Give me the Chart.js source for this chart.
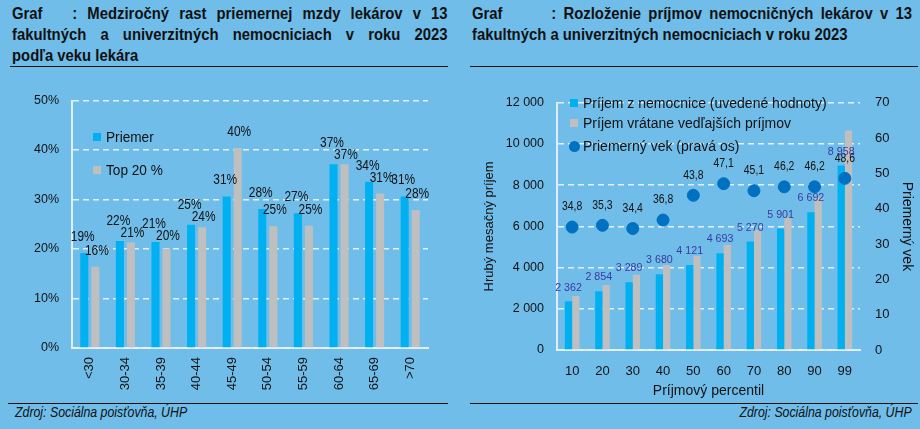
<!DOCTYPE html>
<html>
<head>
<meta charset="utf-8">
<script src="https://cdn.jsdelivr.net/npm/chart.js@4.4.1/dist/chart.umd.min.js"></script>
<style>
  body { margin: 0; background: #70bdea; }
  #page { position: relative; width: 920px; height: 429px; background: #70bdea; overflow: hidden;
    font-family: "Liberation Sans", Arial, sans-serif; color: #111; }
  .title { position: absolute; top: 3px; font-weight: bold; font-size: 16.5px; line-height: 21px;
    transform: scaleX(0.9); transform-origin: 0 0; }
  .title div { text-align: justify; text-align-last: justify; white-space: nowrap; }
  .title div.last { text-align-last: left; }
  .title .g { display: inline-block; }
  .rule { position: absolute; height: 0; border-top: 1.5px solid #111; }
  .src { position: absolute; top: 404px; font-style: italic; font-size: 14px; transform: scaleX(0.88); }
  .chart { position: absolute; top: 80px; }
  .leg { position: absolute; white-space: nowrap; }
  .leg i { display: inline-block; width: 8px; height: 8px; margin-right: 5px; vertical-align: 1px; }
  .leg i.dot { width: 11px; height: 11px; border-radius: 50%; vertical-align: -1px; margin-right: 3px; margin-left: -1px; }
  .leg span { display: inline-block; }
</style>
</head>
<body>
<div id="page">
  <div class="title" style="left:12px;width:484px">
    <div><span class="g" style="width:67px">Graf</span>: Medziročný rast priemernej mzdy lekárov v&nbsp;13</div>
    <div>fakultných a&nbsp;univerzitných nemocniciach v roku 2023</div>
    <div class="last">podľa veku lekára</div>
  </div>
  <div class="title" style="left:472px;width:489px">
    <div><span class="g" style="width:88px">Graf</span>: Rozloženie príjmov nemocničných lekárov v&nbsp;13</div>
    <div class="last">fakultných a univerzitných nemocniciach v roku 2023</div>
  </div>
  <div class="rule" style="left:10px;width:438px;top:66px"></div>
  <div class="rule" style="left:470px;width:448px;top:66px"></div>

  <div class="chart" style="left:0;width:450px;height:320px"><canvas id="ageChart"></canvas></div>
  <div class="chart" style="left:460px;width:460px;height:320px"><canvas id="pctChart"></canvas></div>

  <div class="leg" style="left:93px;top:128px;font-size:15.5px"><i style="background:#00b0f0"></i><span style="transform:scaleX(0.88);transform-origin:0 0">Priemer</span></div>
  <div class="leg" style="left:93px;top:161px;font-size:15.5px"><i style="background:#bfbfbf"></i><span style="transform:scaleX(0.88);transform-origin:0 0">Top 20 %</span></div>

  <div class="leg" style="left:570px;top:95px;font-size:14px"><i style="background:#00b0f0"></i>Príjem z nemocnice (uvedené hodnoty)</div>
  <div class="leg" style="left:570px;top:115px;font-size:14px"><i style="background:#bfbfbf"></i>Príjem vrátane vedľajších príjmov</div>
  <div class="leg" style="left:570px;top:138px;font-size:14px"><i class="dot" style="background:#0070c0"></i>Priemerný vek (pravá os)</div>

  <div class="rule" style="left:8px;width:440px;top:403px"></div>
  <div class="rule" style="left:470px;width:448px;top:403px"></div>
  <div class="src" style="left:15px;transform-origin:0 0">Zdroj: Sociálna poisťovňa, ÚHP</div>
  <div class="src" style="right:8px;transform-origin:100% 0">Zdroj: Sociálna poisťovňa, ÚHP</div>
</div>

<script>
// left chart - wage growth by age group (%)
const ageGroups = ["<30", "30-34", "35-39", "40-44", "45-49", "50-54", "55-59", "60-64", "65-69", ">70"];
const growthAvg = [19.2, 21.6, 21.4, 24.9, 30.6, 28.1, 27.2, 37.1, 33.6, 30.6];
const growthTop20 = [16.4, 21.3, 20.1, 24.4, 40.4, 24.6, 24.7, 37.1, 31.2, 27.9];

// right chart - income by percentile
const percentiles = ["10", "20", "30", "40", "50", "60", "70", "80", "90", "99"];
const incomeHospital = [2362, 2854, 3289, 3680, 4121, 4693, 5270, 5901, 6692, 8958];
const incomeTotal = [2625, 3150, 3650, 4125, 4580, 5110, 5830, 6440, 7400, 10650];
const avgAge = [34.8, 35.3, 34.4, 36.8, 43.8, 47.1, 45.1, 46.2, 46.2, 48.6];

const FONT = '"Liberation Sans", Arial, sans-serif';
const gridColor = "rgba(255,255,255,0.8)";
const axisColor = "rgba(235,242,250,0.9)";

Chart.defaults.font.family = FONT;
Chart.defaults.color = "#111";
Chart.defaults.animation = false;

const spaced = (v) => String(v).replace(/\B(?=(\d{3})+(?!\d))/g, " ");

// draws value labels above marks (narrowed, like Arial Narrow)
const valueLabels = {
  id: "valueLabels",
  afterDatasetsDraw(chart, args, opts) {
    const ctx = chart.ctx;
    const pos = chart.data.datasets.map((ds, i) =>
      chart.getDatasetMeta(i).data.map((el) => ({ x: el.x, y: el.y - (ds.labelOffset || 0) }))
    );
    // keep the two bar labels of one category apart
    if (opts.separate) {
      pos[0].forEach((a, j) => {
        const b = pos[1][j];
        if (Math.abs(a.y - b.y) < 12) {
          const m = (a.y + b.y) / 2;
          a.y = m - 5;
          b.y = m + 7;
        }
        a.x -= 1.5;
        b.x += 1.5;
      });
    }
    chart.data.datasets.forEach((ds, i) => {
      if (!ds.labelFmt) return;
      ctx.save();
      ctx.font = ds.labelFont;
      ctx.fillStyle = ds.labelColor;
      ctx.textAlign = "center";
      ctx.textBaseline = "middle";
      pos[i].forEach((p, j) => {
        ctx.save();
        ctx.translate(p.x, p.y);
        ctx.scale(ds.labelScale || 1, 1);
        ctx.fillText(ds.labelFmt(ds.data[j]), 0, 0);
        ctx.restore();
      });
      ctx.restore();
    });
  },
};

new Chart(document.getElementById("ageChart"), {
  type: "bar",
  data: {
    labels: ageGroups,
    datasets: [
      {
        label: "Priemer",
        data: growthAvg,
        backgroundColor: "#00b0f0",
        categoryPercentage: 0.62,
        barPercentage: 0.73,
        labelFmt: (v) => Math.round(v) + "%",
        labelFont: "14px " + FONT,
        labelScale: 0.85,
        labelColor: "#111",
        labelOffset: 16,
      },
      {
        label: "Top 20 %",
        data: growthTop20,
        backgroundColor: "#bfbfbf",
        categoryPercentage: 0.62,
        barPercentage: 0.73,
        labelFmt: (v) => Math.round(v) + "%",
        labelFont: "14px " + FONT,
        labelScale: 0.85,
        labelColor: "#111",
        labelOffset: 16,
      },
    ],
  },
  options: {
    responsive: true,
    maintainAspectRatio: false,
    layout: { padding: { top: 14, right: 22, left: 0, bottom: 0 } },
    plugins: { legend: { display: false }, tooltip: { enabled: false }, valueLabels: { separate: true } },
    scales: {
      x: {
        grid: { display: false, drawTicks: false },
        border: { display: true, color: axisColor, width: 2 },
        ticks: { minRotation: 90, maxRotation: 90, padding: 9, font: { size: 13 } },
        afterFit: (s) => { s.height = 52; },
      },
      y: {
        min: 0,
        max: 50,
        grid: { color: gridColor, lineWidth: 1.5, drawTicks: false },
        border: { display: true, color: axisColor, width: 2, dash: [6, 4] },
        ticks: { stepSize: 10, padding: 13, font: { size: 12.5 }, callback: (v) => v + "%" },
        afterFit: (s) => { s.width = 72; },
      },
    },
  },
  plugins: [valueLabels],
});

new Chart(document.getElementById("pctChart"), {
  type: "bar",
  data: {
    labels: percentiles,
    datasets: [
      {
        type: "line",
        label: "Priemerný vek (pravá os)",
        data: avgAge,
        yAxisID: "y1",
        showLine: false,
        pointRadius: 6,
        pointBackgroundColor: "#0070c0",
        pointBorderColor: "#0070c0",
        labelFmt: (v) => v.toFixed(1).replace(".", ","),
        labelFont: "12px " + FONT,
        labelScale: 0.87,
        labelColor: "#111",
        labelOffset: 20,
      },
      {
        label: "Príjem z nemocnice (uvedené hodnoty)",
        data: incomeHospital,
        backgroundColor: "#00b0f0",
        categoryPercentage: 0.48,
        barPercentage: 1,
        labelFmt: spaced,
        labelFont: "11.5px " + FONT,
        labelScale: 0.93,
        labelColor: "#3a3a9e",
        labelOffset: 14,
      },
      {
        label: "Príjem vrátane vedľajších príjmov",
        data: incomeTotal,
        backgroundColor: "#bfbfbf",
        categoryPercentage: 0.48,
        barPercentage: 1,
      },
    ],
  },
  options: {
    responsive: true,
    maintainAspectRatio: false,
    layout: { padding: { top: 14, right: 5, left: 22, bottom: 0 } },
    plugins: { legend: { display: false }, tooltip: { enabled: false }, valueLabels: { separate: false } },
    scales: {
      x: {
        grid: { display: false, drawTicks: false },
        border: { display: true, color: axisColor, width: 2 },
        ticks: { padding: 14, font: { size: 13 } },
        title: { display: true, text: "Príjmový percentil", font: { size: 14 }, padding: 0 },
        afterFit: (s) => { s.height = 50; },
      },
      y: {
        min: 0,
        max: 12000,
        grid: { color: gridColor, lineWidth: 1.5, drawTicks: false },
        border: { display: true, color: axisColor, width: 2, dash: [6, 4] },
        ticks: { stepSize: 2000, padding: 13, font: { size: 12.5 }, callback: spaced },
        title: { display: true, text: "Hrubý mesačný príjem", font: { size: 13 }, padding: 0 },
        afterFit: (s) => { s.width = 75; },
      },
      y1: {
        position: "right",
        min: 0,
        max: 70,
        grid: { display: false, drawTicks: false },
        border: { display: false },
        ticks: { stepSize: 10, padding: 15, font: { size: 13 } },
        title: { display: true, text: "Priemerný vek", font: { size: 14 }, padding: 0 },
        afterFit: (s) => { s.width = 55; },
      },
    },
  },
  plugins: [valueLabels],
});
</script>
</body>
</html>
